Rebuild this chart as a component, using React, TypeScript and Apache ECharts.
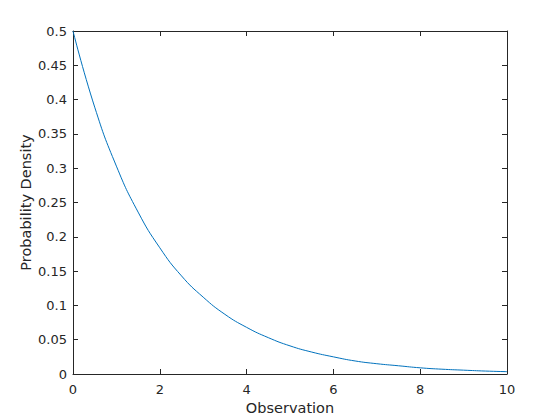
import React, { useEffect, useRef } from "react";
import * as echarts from "echarts";

const xValues = [0, 0.5, 1, 1.5, 2, 2.5, 3, 3.5, 4, 4.5, 5, 5.5, 6, 6.5, 7, 7.5, 8, 8.5, 9, 9.5, 10];
const densityValues = [0.5, 0.389, 0.303, 0.236, 0.184, 0.143, 0.112, 0.087, 0.068, 0.053, 0.041, 0.032, 0.025, 0.019, 0.015, 0.012, 0.009, 0.007, 0.0056, 0.0043, 0.0034];
const xTitle = "Observation";
const yTitle = "Probability Density";

const axisColor = "#262626";
const font = "DejaVu Sans";

export default function App() {
  const ref = useRef<HTMLDivElement>(null);
  useEffect(() => {
    if (!ref.current) return;
    const chart = echarts.init(ref.current, undefined, { renderer: "svg" });
    const baseLine = { show: true, onZero: false, lineStyle: { color: axisColor, width: 1 } };
    const tick = { show: true, inside: true, length: 5, lineStyle: { color: axisColor, width: 1 } };
    const label = { color: axisColor, fontFamily: font, fontSize: 13 };
    chart.setOption({
      animation: false,
      backgroundColor: "#ffffff",
      grid: { left: 73, right: 53, top: 31, bottom: 46, containLabel: false },
      xAxis: [
        {
          type: "value", min: 0, max: 10, interval: 2,
          name: xTitle, nameLocation: "middle", nameGap: 26, nameMoveOverlap: false,
          nameTextStyle: { color: axisColor, fontFamily: font, fontSize: 14.5 },
          axisLine: baseLine, axisTick: tick, axisLabel: { ...label, margin: 9 },
          splitLine: { show: false },
        },
        {
          type: "value", min: 0, max: 10, interval: 2, position: "top",
          axisLine: baseLine, axisTick: tick, axisLabel: { show: false },
          splitLine: { show: false },
        },
      ],
      yAxis: [
        {
          type: "value", min: 0, max: 0.5, interval: 0.05,
          name: yTitle, nameLocation: "middle", nameGap: 40, nameMoveOverlap: false,
          nameTextStyle: { color: axisColor, fontFamily: font, fontSize: 14.5 },
          axisLine: baseLine, axisTick: tick, axisLabel: { ...label, margin: 6 },
          splitLine: { show: false },
        },
        {
          type: "value", min: 0, max: 0.5, interval: 0.05, position: "right",
          axisLine: baseLine, axisTick: tick, axisLabel: { show: false },
          splitLine: { show: false },
        },
      ],
      series: [
        {
          type: "line",
          data: xValues.map((x, i) => [x, densityValues[i]]),
          smooth: true,
          showSymbol: false,
          lineStyle: { color: "#0072BD", width: 1 },
          xAxisIndex: 0, yAxisIndex: 0,
        },
      ],
    });
    return () => chart.dispose();
  }, []);
  return <div ref={ref} style={{ position: "fixed", left: 0, top: 0, width: 560, height: 420 }} />;
}
